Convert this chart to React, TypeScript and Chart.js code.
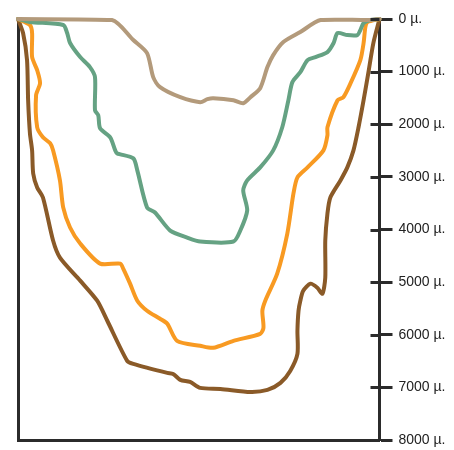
import React, { useEffect, useRef } from "react";
import { Chart, registerables } from "chart.js";

Chart.register(...registerables);

// x: relative position across the profile (0..100), y: depth in µ
const tanX = [0, 26, 31.9, 35.7, 37.4, 39.3, 44.9, 50.4, 52.4, 54, 59.6, 62.3, 64.3, 67, 69, 70.6, 73.4, 78.1, 83.7, 97.5, 100];
const tanY = [0, 20, 400, 648, 1105, 1295, 1486, 1581, 1524, 1505, 1543, 1600, 1486, 1314, 914, 686, 438, 248, 20, 20, 0];

const greenX = [0, 3.3, 12.5, 13.6, 14.4, 17.2, 19.9, 21.3, 21.3, 22.2, 22.7, 25.5, 26.9, 27.4, 31.9, 33, 35.7, 37.9, 42.1, 46.8, 50.4, 59.6, 61.5, 63.4, 62.3, 63.4, 67, 70.6, 73.1, 74.8, 75.9, 78.1, 80.1, 82.3, 85.6, 87.3, 88.4, 91.1, 93.9, 94.7, 95.6, 97.5, 100];
const greenY = [0, 57, 114, 267, 457, 724, 914, 1105, 1734, 1829, 2076, 2248, 2496, 2553, 2648, 2877, 3581, 3677, 4020, 4153, 4229, 4229, 4020, 3639, 3258, 3067, 2820, 2496, 2057, 1543, 1200, 1010, 781, 724, 629, 457, 267, 305, 305, 210, 76, 19, 0];

const orangeX = [0, 3.3, 3.9, 3.9, 5.3, 6.1, 5.0, 5.3, 6.9, 8.9, 9.7, 11.6, 12.5, 14.4, 17.2, 22.7, 28.3, 29.1, 31, 33, 35.7, 39.3, 41.3, 44, 50.4, 54, 59.6, 67, 67.9, 67.6, 68.4, 71.7, 74.5, 76.2, 77.3, 80.1, 84.5, 85.6, 85.6, 88.4, 90, 92, 94.7, 95.6, 96.1, 96.7, 100];
const orangeY = [0, 114, 267, 724, 972, 1219, 1448, 2057, 2248, 2362, 2496, 3067, 3581, 3962, 4267, 4648, 4648, 4743, 5029, 5353, 5544, 5696, 5791, 6115, 6210, 6248, 6115, 5982, 5867, 5544, 5353, 4839, 4077, 3315, 3010, 2820, 2496, 2210, 2057, 1543, 1486, 1219, 781, 457, 152, 57, 0];

const brownX = [0, 1.4, 2.5, 2.8, 3.3, 3.9, 4.2, 5.3, 6.9, 9.7, 11.6, 17.2, 21.9, 24.7, 30.2, 31.9, 41.3, 42.9, 44.9, 47.6, 50.4, 56, 64.3, 69, 72.6, 75.3, 77.3, 77.3, 77.6, 78.1, 78.9, 80.9, 82.8, 84.2, 85, 85, 85.6, 86.4, 89.2, 91.1, 92.8, 94.2, 95.6, 96.9, 98.3, 100];
const brownY = [0, 267, 781, 1543, 2172, 2496, 2934, 3200, 3391, 4210, 4534, 4972, 5353, 5734, 6496, 6553, 6725, 6744, 6858, 6896, 7010, 7029, 7087, 7049, 6915, 6687, 6363, 5925, 5544, 5353, 5163, 5029, 5106, 5220, 4915, 4210, 3696, 3391, 3067, 2820, 2496, 2057, 1543, 1029, 457, 0];

const depthTicks = [0, 1000, 2000, 3000, 4000, 5000, 6000, 7000, 8000];
const tickSuffix = " µ.";

const seriesColors = ["#B39A7B", "#65A283", "#F89A22", "#8A5A28"];

const toPoints = (xs: number[], ys: number[]) => xs.map((x, i) => ({ x, y: ys[i] }));

const AXIS = "#2b2b2b";

const innerTicks = {
  id: "innerTicks",
  afterDraw(chart: any) {
    const s = chart.scales.y;
    const { ctx, chartArea } = chart;
    ctx.save();
    ctx.strokeStyle = AXIS;
    ctx.lineWidth = 3;
    depthTicks.forEach((v) => {
      const y = Math.round(s.getPixelForValue(v)) + 0.5;
      ctx.beginPath();
      ctx.moveTo(chartArea.right - 9, y);
      ctx.lineTo(chartArea.right, y);
      ctx.stroke();
    });
    ctx.restore();
  },
};

const noPad = (s: any) => {
  s.paddingTop = 0;
  s.paddingBottom = 0;
  s.paddingLeft = 0;
  s.paddingRight = 0;
};

export default function App() {
  const ref = useRef<HTMLCanvasElement>(null);
  useEffect(() => {
    if (!ref.current) return;
    const mk = (xs: number[], ys: number[], c: string) => ({
      data: toPoints(xs, ys),
      borderColor: c,
      backgroundColor: c,
      borderWidth: 4,
      pointRadius: 0,
      tension: 0.25,
      fill: false,
      clip: 6,
      borderCapStyle: "round" as const,
      borderJoinStyle: "round" as const,
      yAxisID: "y",
      xAxisID: "x",
    });
    const chart = new Chart(ref.current, {
      type: "line",
      data: {
        datasets: [
          mk(tanX, tanY, seriesColors[0]),
          mk(greenX, greenY, seriesColors[1]),
          mk(orangeX, orangeY, seriesColors[2]),
          mk(brownX, brownY, seriesColors[3]),
        ],
      },
      options: {
        responsive: false,
        animation: false,
        layout: { padding: { left: 18, top: 19, right: 0, bottom: 10 } },
        plugins: { legend: { display: false }, tooltip: { enabled: false } },
        scales: {
          x: {
            type: "linear",
            min: 0,
            max: 100,
            position: "bottom",
            ticks: { display: false },
            grid: { display: false, drawTicks: false },
            border: { display: true, color: AXIS, width: 3 },
            afterFit: (s: any) => { s.height = 0; noPad(s); },
          },
          yl: {
            type: "linear",
            position: "left",
            min: 0,
            max: 8000,
            reverse: true,
            ticks: { display: false },
            grid: { display: false, drawTicks: false },
            border: { display: true, color: AXIS, width: 3 },
            afterFit: (s: any) => { s.width = 0; noPad(s); },
          },
          y: {
            type: "linear",
            position: "right",
            min: 0,
            max: 8000,
            reverse: true,
            afterBuildTicks: (s: any) => { s.ticks = depthTicks.map((v) => ({ value: v })); },
            ticks: {
              padding: 6,
              color: "#222",
              font: { family: "'Liberation Sans', Arial, sans-serif", size: 14 },
              callback: (v: any) => `${v}${tickSuffix}`,
            },
            grid: { drawOnChartArea: false, drawTicks: true, tickLength: 13, tickWidth: 3, tickColor: AXIS },
            border: { display: true, color: AXIS, width: 3 },
            afterFit: (s: any) => { s.width = 74.5; noPad(s); },
          },
        },
      },
      plugins: [innerTicks],
    });
    return () => chart.destroy();
  }, []);
  return (
    <div style={{ position: "fixed", left: 0, top: 0, width: 454, height: 450, overflow: "hidden", background: "#fff" }}>
      <canvas ref={ref} width={454} height={450} style={{ display: "block" }} />
    </div>
  );
}
